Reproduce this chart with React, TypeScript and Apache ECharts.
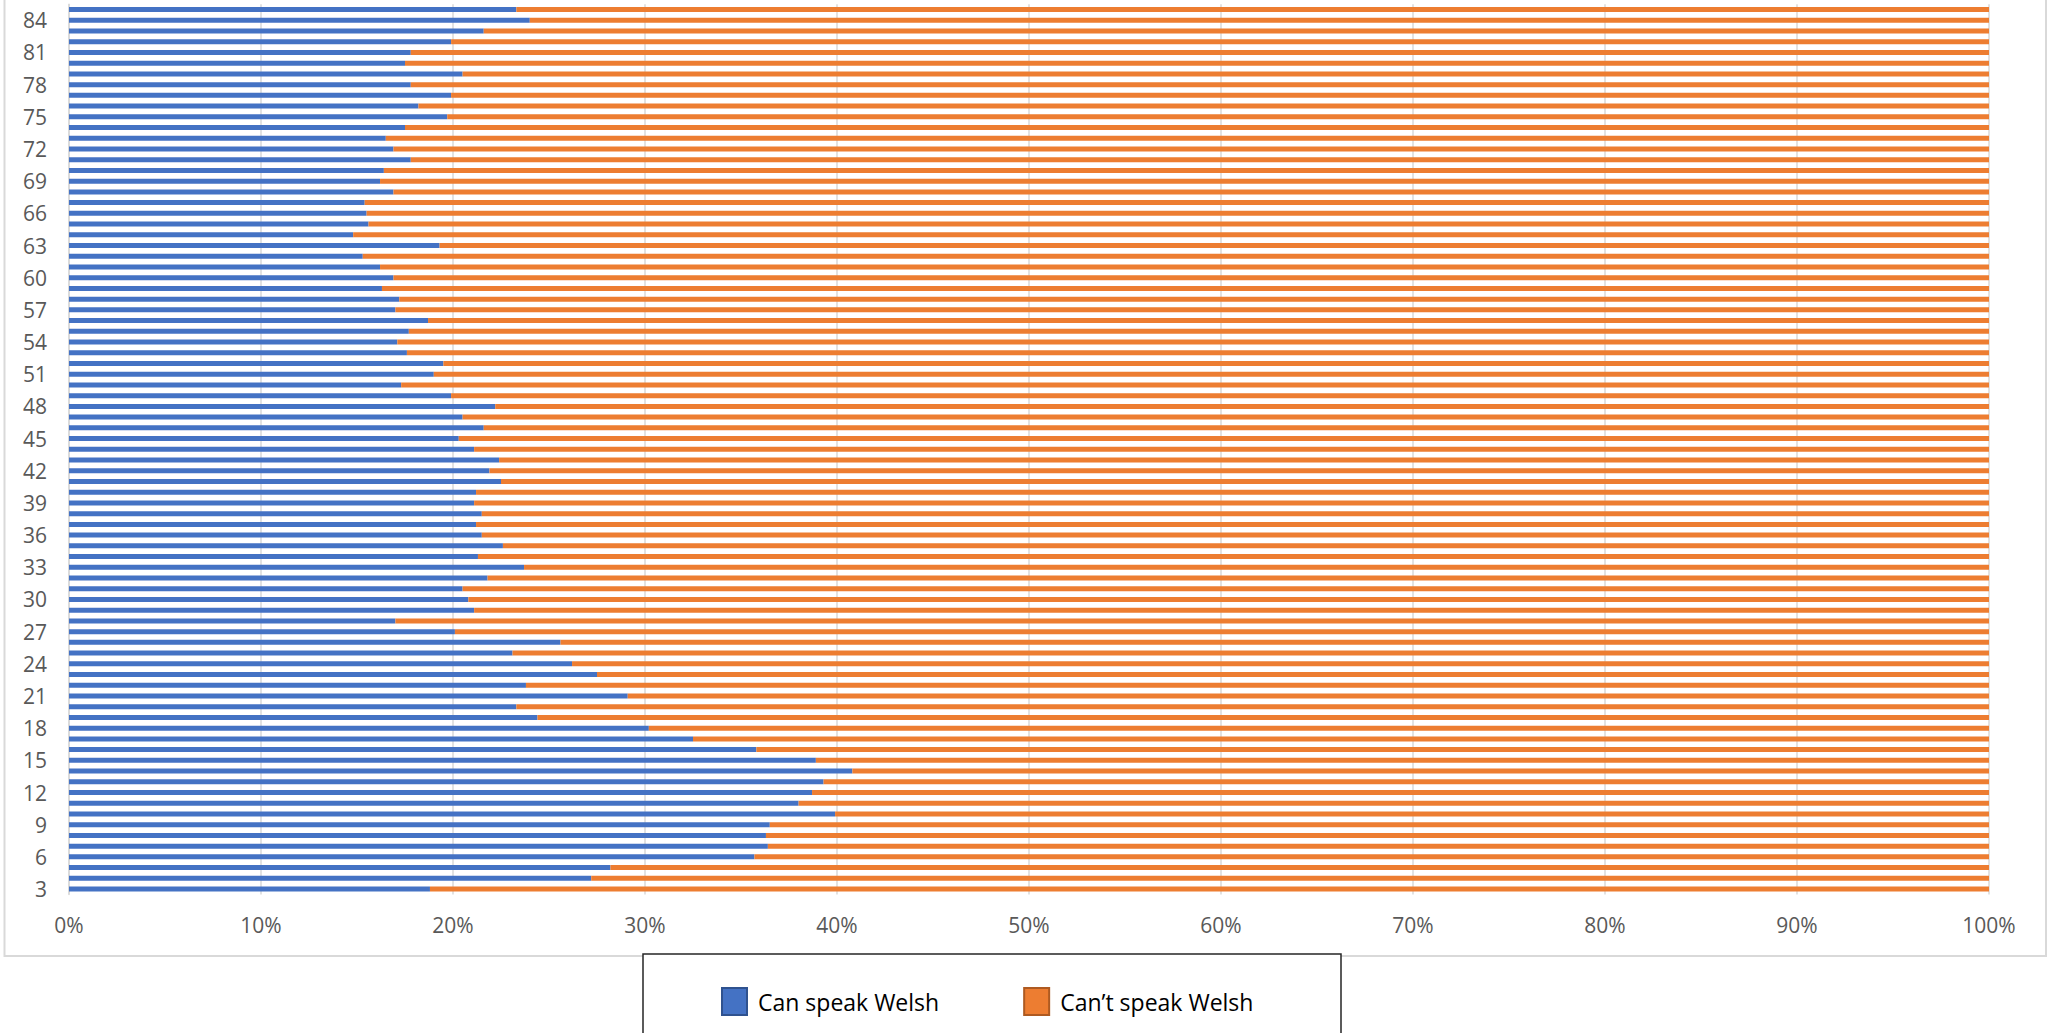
import React, { useEffect, useRef } from "react";
import * as echarts from "echarts";

const ages: string[] = [];
for (let a = 3; a <= 85; a++) ages.push(String(a));

const canSpeakWelsh = [
  18.8, 27.2, 28.2, 35.7, 36.4, 36.3, 36.5, 39.9, 38.0, 38.7,
  39.3, 40.8, 38.9, 35.8, 32.5, 30.2, 24.4, 23.3, 29.1, 23.8,
  27.5, 26.2, 23.1, 25.6, 20.1, 17.0, 21.1, 20.8, 20.5, 21.8,
  23.7, 21.3, 22.6, 21.5, 21.2, 21.5, 21.1, 21.2, 22.5, 21.9,
  22.4, 21.1, 20.3, 21.6, 20.5, 22.2, 19.9, 17.3, 19.0, 19.5,
  17.6, 17.1, 17.7, 18.7, 17.0, 17.2, 16.3, 16.9, 16.2, 15.3,
  19.3, 14.8, 15.6, 15.5, 15.4, 16.9, 16.2, 16.4, 17.8, 16.9,
  16.5, 17.5, 19.7, 18.2, 19.9, 17.8, 20.5, 17.5, 17.8, 19.9,
  21.6, 24.0, 23.3,
];

const cantSpeakWelsh = [
  81.2, 72.8, 71.8, 64.3, 63.6, 63.7, 63.5, 60.1, 62.0, 61.3,
  60.7, 59.2, 61.1, 64.2, 67.5, 69.8, 75.6, 76.7, 70.9, 76.2,
  72.5, 73.8, 76.9, 74.4, 79.9, 83.0, 78.9, 79.2, 79.5, 78.2,
  76.3, 78.7, 77.4, 78.5, 78.8, 78.5, 78.9, 78.8, 77.5, 78.1,
  77.6, 78.9, 79.7, 78.4, 79.5, 77.8, 80.1, 82.7, 81.0, 80.5,
  82.4, 82.9, 82.3, 81.3, 83.0, 82.8, 83.7, 83.1, 83.8, 84.7,
  80.7, 85.2, 84.4, 84.5, 84.6, 83.1, 83.8, 83.6, 82.2, 83.1,
  83.5, 82.5, 80.3, 81.8, 80.1, 82.2, 79.5, 82.5, 82.2, 80.1,
  78.4, 76.0, 76.7,
];

const seriesNames = ["Can speak Welsh", "Can\u2019t speak Welsh"];

const FONT = "'Open Sans', 'Noto Sans', sans-serif";

export default function App() {
  const ref = useRef<HTMLDivElement>(null);

  useEffect(() => {
    if (!ref.current) return;
    const chart = echarts.init(ref.current, undefined, { renderer: "svg" });
    chart.setOption({
      animation: false,
      backgroundColor: "#ffffff",
      grid: { left: 69, right: 69, top: 4.2, bottom: 138.6, containLabel: false },
      xAxis: {
        type: "value",
        min: 0,
        max: 100,
        interval: 10,
        axisLine: { show: false },
        axisTick: { show: false },
        splitLine: { show: true, lineStyle: { color: "#d9d9d9", width: 1.5 } },
        axisLabel: {
          formatter: "{value}%",
          color: "#595959",
          fontSize: 21,
          fontFamily: FONT,
          margin: 20,
        },
      },
      yAxis: {
        type: "category",
        data: ages,
        axisLine: { show: true, lineStyle: { color: "#d9d9d9", width: 1.5 } },
        axisTick: { show: false },
        splitLine: { show: false },
        axisLabel: {
          interval: 2,
          color: "#595959",
          fontSize: 21,
          fontFamily: FONT,
          margin: 22,
        },
      },
      legend: {
        left: 716,
        top: 982,
        z: 10,
        itemWidth: 25,
        itemHeight: 27,
        itemGap: 84,
        icon: "rect",
        textStyle: {
          color: "#000000",
          fontSize: 23,
          fontFamily: FONT,
          padding: [0, 0, 0, 6],
        },
        data: [
          { name: seriesNames[0], itemStyle: { color: "#4472C4", borderColor: "#2F528F", borderWidth: 2 } },
          { name: seriesNames[1], itemStyle: { color: "#ED7D31", borderColor: "#AE5A21", borderWidth: 2 } },
        ],
      },
      graphic: [
        {
          type: "rect",
          z: 1,
          silent: true,
          shape: { x: 4.5, y: -5, width: 2041.5, height: 961 },
          style: { fill: "none", stroke: "#d9d9d9", lineWidth: 2 },
        },
        {
          type: "rect",
          z: 5,
          silent: true,
          shape: { x: 643, y: 954, width: 698, height: 120 },
          style: { fill: "#ffffff", stroke: "#262626", lineWidth: 1.5 },
        },
      ],
      series: [
        {
          name: seriesNames[0],
          type: "bar",
          stack: "total",
          barWidth: 5,
          itemStyle: { color: "#4472C4" },
          data: canSpeakWelsh,
        },
        {
          name: seriesNames[1],
          type: "bar",
          stack: "total",
          barWidth: 5,
          itemStyle: { color: "#ED7D31" },
          data: cantSpeakWelsh,
        },
      ],
    });
    return () => chart.dispose();
  }, []);

  return (
    <div
      ref={ref}
      style={{ position: "fixed", left: 0, top: 0, width: 2058, height: 1033, background: "#fff" }}
    />
  );
}
